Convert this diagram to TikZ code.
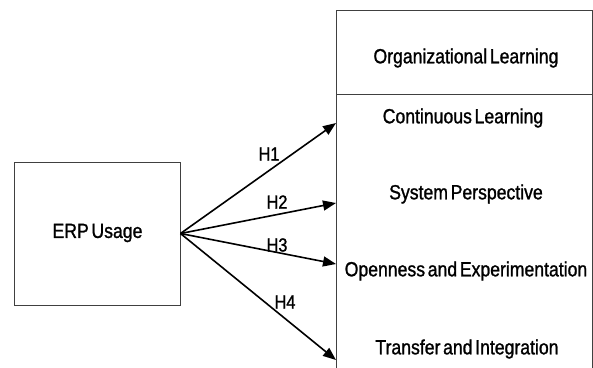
\documentclass[tikz,border=0pt]{standalone}
\usepackage{fontspec}
\setmainfont{Liberation Sans}[FakeStretch=0.86,FakeBold=1.2,WordSpace=0.55]
\usetikzlibrary{arrows.meta}
\begin{document}
\begin{tikzpicture}[x=1pt,y=-1pt,
  boxline/.style={draw=black!75,line width=1pt},
  lbl/.style={font=\fontsize{20.5}{22}\selectfont,inner sep=0pt,anchor=center},
  hyp/.style={font=\fontsize{19}{21}\selectfont,inner sep=0pt,anchor=center},
  link/.style={line width=1.6pt,-{Triangle[length=13pt,width=10pt]}}]
\useasboundingbox (0,0) rectangle (593,367);
\clip (0,0) rectangle (593,367);
% left box
\node[boxline,minimum width=166pt,minimum height=143pt,inner sep=0pt] (erp) at (97,233.5) {};
\node[lbl] (erptxt) at (97.5,233) {ERP Usage};
% right box
\node[boxline,minimum width=256pt,minimum height=84pt,inner sep=0pt,anchor=north west] (head) at (336,10) {};
\node[boxline,minimum width=256pt,minimum height=330pt,inner sep=0pt,anchor=north west] (body) at (336,94) {};
\node[lbl] (ol) at (466,58) {Organizational Learning};
\node[lbl] (cl) at (463,118) {Continuous Learning};
\node[lbl] (sp) at (466,194) {System Perspective};
\node[lbl] (oe) at (466,271) {Openness and Experimentation};
\node[lbl] (ti) at (467,349) {Transfer and Integration};
% arrow targets on the body's left side
\coordinate (t1) at (336,123);
\coordinate (t2) at (336,203);
\coordinate (t3) at (336,264);
\coordinate (t4) at (336,360);
\draw[link] (erp.east) -- (t1);
\draw[link] (erp.east) -- (t2);
\draw[link] (erp.east) -- (t3);
\draw[link] (erp.east) -- (t4);
\node[hyp] (h1) at (269,154) {H1};
\node[hyp] (h2) at (277,202) {H2};
\node[hyp] (h3) at (277,245) {H3};
\node[hyp] (h4) at (285,302) {H4};
\end{tikzpicture}
\end{document}
